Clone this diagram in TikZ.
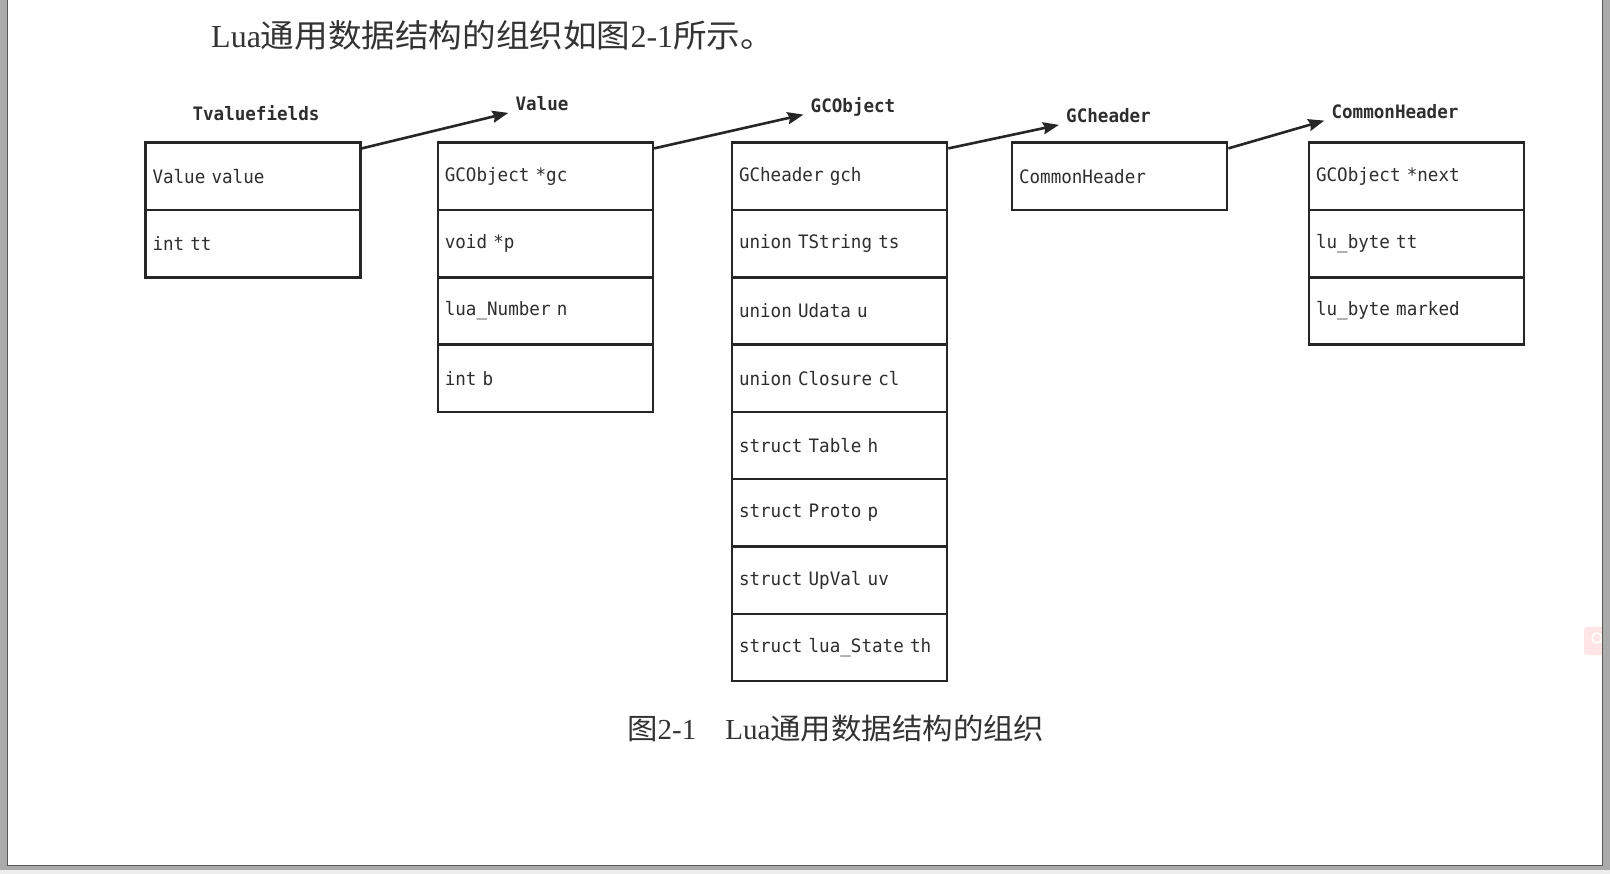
\documentclass[tikz,border=0pt]{standalone}
\usepackage{fontspec}
\setmainfont{Liberation Serif}
\newfontfamily\cjk[FakeStretch=1.05]{Noto Sans CJK SC}
\newfontfamily\codefont[FakeStretch=0.95]{DejaVu Sans Mono}
\usetikzlibrary{arrows.meta}

\colorlet{box edge}{black!85}
\colorlet{box text}{black!82}
\colorlet{frame gray}{black!33}
\tikzset{
  field/.style={draw=box edge, line width=2.6pt, minimum height=67.3pt, text width=201pt,
    inner xsep=7pt, inner ysep=8pt, align=left, text=box text, font=\codefont\fontsize{18.5}{22}\selectfont},
  label/.style={inner sep=1pt, text=box text, font=\codefont\bfseries\fontsize{18.5}{22}\selectfont}
  }
\tikzstyle{link} = [draw=box edge, line width=2.6pt, -{Stealth[length=16pt,width=12pt,inset=2pt]}]
\tikzstyle{heading}=[inner sep=0pt, anchor=west, text=black!80]

\begin{document}
\begin{tikzpicture}[x=1pt, y=-1pt]
  \useasboundingbox (0,0) rectangle (1610,874);
  \fill[white] (0,0) rectangle (1610,874);

  % screen icon at the right edge
  \fill[red!10, rounded corners=3pt] (1584,627) rectangle (1606,655);
  \draw[white, line width=1.5pt] (1597,638) circle (5) (1601,642) -- (1605,646);

  % page border
  \fill[frame gray] (0,0) rectangle (7,865) (1603,0) rectangle (1610,865) (0,865) rectangle (1610,870);
  \fill[black!7] (0,870) rectangle (1610,874);
  \draw[black!65, line width=1pt] (7.5,0) -- (7.5,865) -- (1602.5,865) -- (1602.5,0);

  \node[heading, font=\fontsize{32}{38}\selectfont] (title) at (211,35)
    {Lua{\cjk 通用数据结构的组织如图}2-1{\cjk 所示。}};

  \foreach \i/\txt in {0/Value value, 1/int tt} {
    \node[field] (tv\i) at (253, {176.35+67.3*\i}) {\mbox{\txt}};
  }
  \foreach \i/\txt in {0/GCObject *gc, 1/void *p, 2/lua\_Number n, 3/int b} {
    \node[field] (val\i) at (545.3, {176.35+67.3*\i}) {\mbox{\txt}};
  }
  \foreach \i/\txt in {0/GCheader gch, 1/union TString ts, 2/union Udata u, 3/union Closure cl,
      4/struct Table h, 5/struct Proto p, 6/struct UpVal uv, 7/struct lua\_State th} {
    \node[field] (gco\i) at (839.5, {176.35+67.3*\i}) {\mbox{\txt}};
  }
  \node[field] (gch0) at (1119.5, 176.35) {CommonHeader};
  \foreach \i/\txt in {0/GCObject *next, 1/lu\_byte tt, 2/lu\_byte marked} {
    \node[field] (ch\i) at (1416.5, {176.35+67.3*\i}) {\mbox{\txt}};
  }

  \node[label] (lTv) at (256,113) {Tvaluefields};
  \node[label] (lVal) at (542,104) {Value};
  \node[label] (lGco) at (853,107) {GCObject};
  \node[label] (lGch) at (1108.5,116) {GCheader};
  \node[label] (lCh) at (1395,111.7) {CommonHeader};

  \foreach \a/\b in {tv0/lVal, val0/lGco, gco0/lGch, gch0/lCh} {
    \draw[link] ([yshift=-7pt]\a.north east) -- ([xshift=-6pt,yshift=-2pt]\b.base west);
  }

  \node[heading, font=\fontsize{29}{35}\selectfont] (caption) at (627,728)
    {{\cjk 图}2-1\hspace{1em}Lua{\cjk 通用数据结构的组织}};
\end{tikzpicture}
\end{document}
